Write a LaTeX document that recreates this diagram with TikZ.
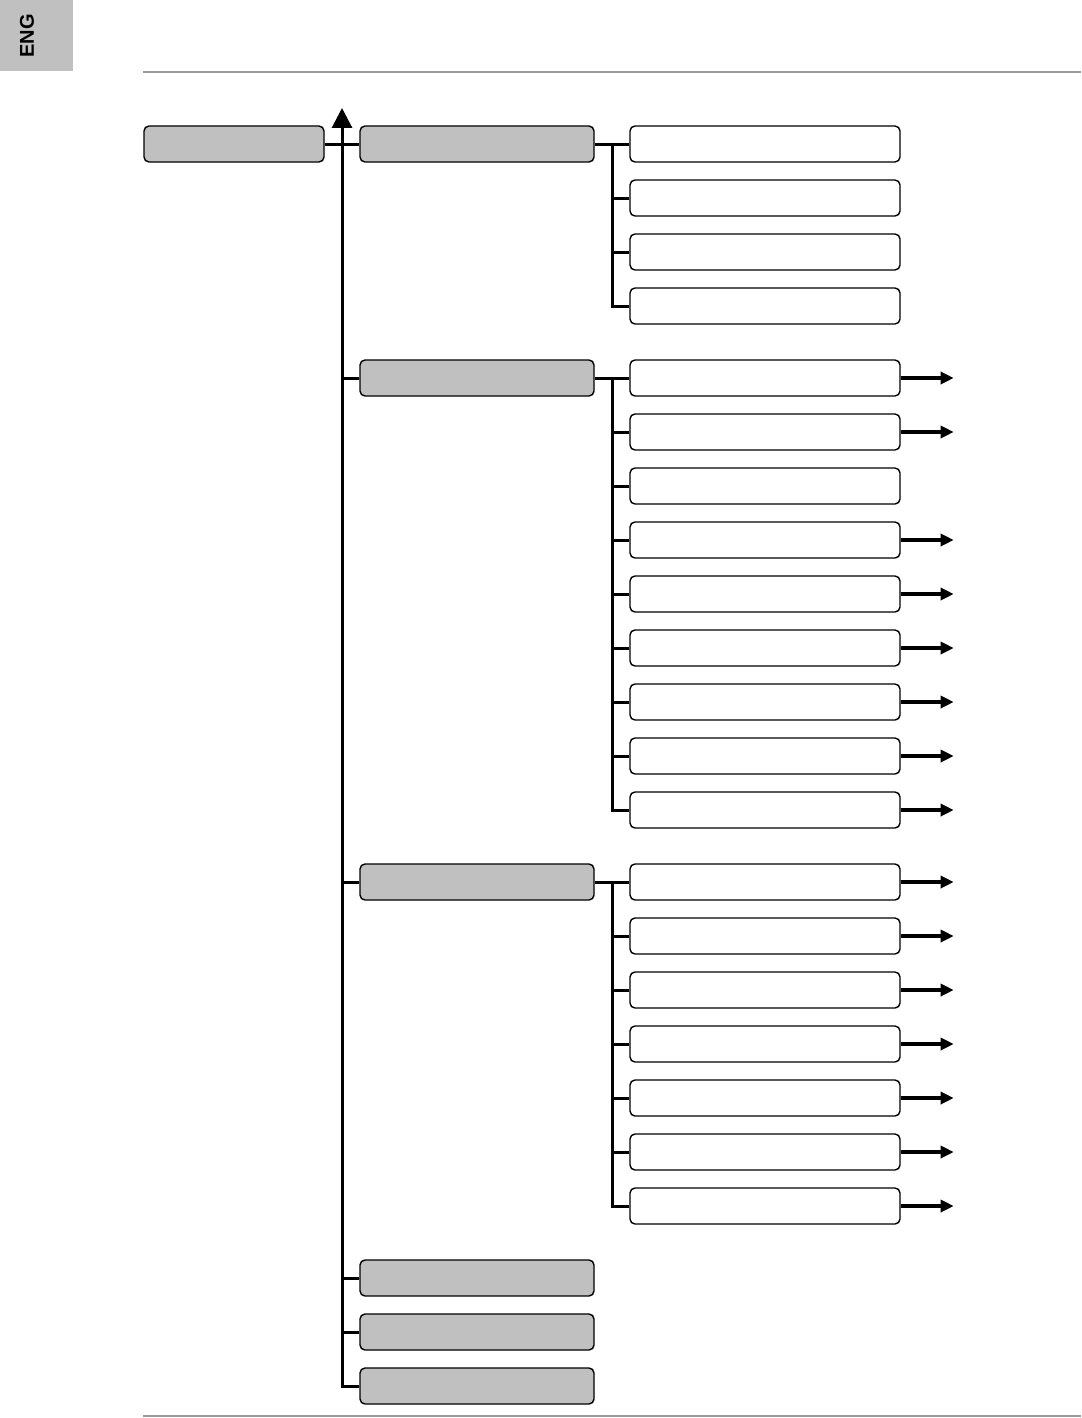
\documentclass[tikz,border=0pt]{standalone}
\usepackage{fontspec}
\setsansfont{Liberation Sans}
\usetikzlibrary{arrows.meta}
\definecolor{boxgray}{HTML}{C0C0C0}
\definecolor{rulegray}{HTML}{9A9A9A}
\begin{document}
\begin{tikzpicture}[x=1pt,y=-1pt,
  graybox/.style={draw=black,fill=boxgray,rounded corners=5pt,line width=1.4pt,minimum width=234pt,minimum height=36pt,inner sep=0pt},
  rootbox/.style={graybox,minimum width=180pt},
  whitebox/.style={draw=black,fill=white,rounded corners=5pt,line width=1.4pt,minimum width=270pt,minimum height=36pt,inner sep=0pt},
  conn/.style={draw=black,line width=3pt},
  outarrow/.style={draw=black,line width=4.2pt,-{Triangle[length=13pt,width=12pt]}},
  rule/.style={draw=rulegray,line width=2pt}
]
\useasboundingbox (0,0) rectangle (1081,1418);
% ENG tab
\node[fill=boxgray,minimum width=73pt,minimum height=71pt,inner sep=0pt,anchor=north west] (tab) at (0,0) {};
\node[rotate=90,font=\sffamily\bfseries\fontsize{20}{20}\selectfont] (eng) at (27,36) {ENG};
% rules
\coordinate (rtl) at (143,72); \coordinate (rtr) at (1081,72);
\coordinate (rbl) at (143,1416); \coordinate (rbr) at (1081,1416);
\draw[rule] (rtl) -- (rtr);
\draw[rule] (rbl) -- (rbr);
% root and level 1
\node[rootbox] (root) at (234,144) {};
\node[graybox] (g1) at (477,144) {};
\node[graybox] (g2) at (477,378) {};
\node[graybox] (g3) at (477,882) {};
\node[graybox] (g4) at (477,1278) {};
\node[graybox] (g5) at (477,1332) {};
\node[graybox] (g6) at (477,1386) {};
% trunk
\coordinate (trunktop) at (342,108);
\coordinate (trunkbot) at (342,1386);
\draw[conn,{Triangle[length=20pt,width=20pt]}-] (trunktop) -- (trunkbot) -- (g6.west);
\draw[conn] (root.east) -- (g1.west);
\foreach \g in {g2,g3,g4,g5} \draw[conn] (\g.west -| trunkbot) -- (\g.west);
% group 1
\foreach \i/\y in {1/144,2/198,3/252,4/306} \node[whitebox] (c1\i) at (765,\y) {};
\coordinate (s1) at (612,144);
\draw[conn] (g1.east) -- (c11.west);
\draw[conn] (s1) |- (c14.west);
\foreach \i in {2,3} \draw[conn] (c1\i.west -| s1) -- (c1\i.west);
% group 2
\foreach \i/\y in {1/378,2/432,3/486,4/540,5/594,6/648,7/702,8/756,9/810} \node[whitebox] (c2\i) at (765,\y) {};
\coordinate (s2) at (612,378);
\draw[conn] (g2.east) -- (c21.west);
\draw[conn] (s2) |- (c29.west);
\foreach \i in {2,...,8} \draw[conn] (c2\i.west -| s2) -- (c2\i.west);
\foreach \i in {1,2,4,5,6,7,8,9} \draw[outarrow] (c2\i.east) -- ++(53,0);
% group 3
\foreach \i/\y in {1/882,2/936,3/990,4/1044,5/1098,6/1152,7/1206} \node[whitebox] (c3\i) at (765,\y) {};
\coordinate (s3) at (612,882);
\draw[conn] (g3.east) -- (c31.west);
\draw[conn] (s3) |- (c37.west);
\foreach \i in {2,...,6} \draw[conn] (c3\i.west -| s3) -- (c3\i.west);
\foreach \i in {1,...,7} \draw[outarrow] (c3\i.east) -- ++(53,0);
\end{tikzpicture}
\end{document}
